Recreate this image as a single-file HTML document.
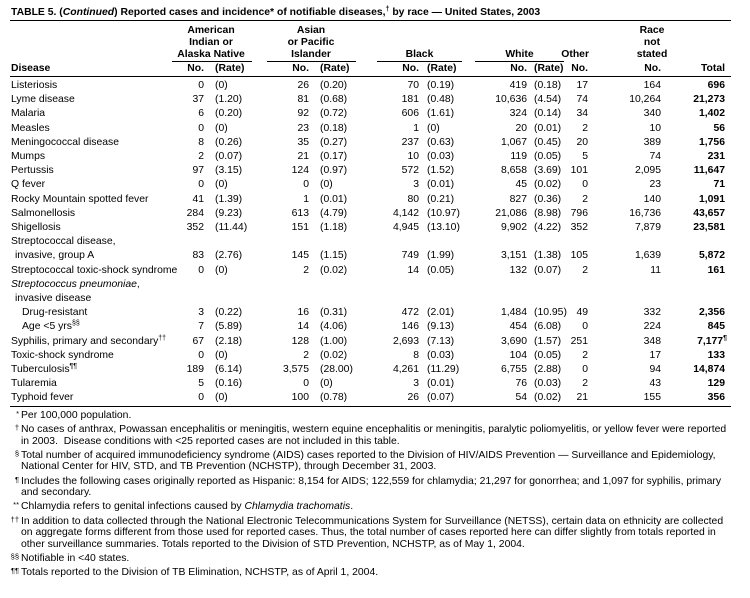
<!DOCTYPE html>
<html><head><meta charset="utf-8">
<style>
html,body{margin:0;padding:0;background:#fff;}
body{width:750px;height:598px;position:relative;overflow:hidden;font-family:"Liberation Sans",Arial,sans-serif;color:#000;font-size:10.4px;}
.a{position:absolute;white-space:nowrap;line-height:14px;}
.row{position:absolute;left:0;width:750px;height:14px;}
.row>span{position:absolute;top:0;line-height:14px;white-space:nowrap;}
.d{left:11px}
.n1{right:546px}.r1{left:215px}
.n2{right:441px}.r2{left:320px}
.n3{right:331px}.r3{left:427px}
.n4{right:223px}.r4{left:534px}
.n5{right:162px}.n6{right:89px}.t{right:25px;font-weight:bold}
.hl{position:absolute;height:1px;background:#000}
.b{font-weight:bold}
.s{font-size:7px;position:relative;top:-4px}
.c{position:absolute;text-align:center;white-space:nowrap;line-height:14px;font-weight:bold}
.fn{position:absolute;left:21px;white-space:nowrap;line-height:12px;}
.mk{position:absolute;width:19px;left:0;text-align:right;white-space:nowrap;line-height:12px;font-size:7.5px;}
</style></head><body>

<div class="a b" style="left:11px;top:6px;">TABLE 5. (<i>Continued</i>) Reported cases and incidence* of notifiable diseases,<span class="s">†</span> by race — United States, 2003</div>
<div class="hl" style="left:10px;width:721px;top:20px;"></div>

<div class="c" style="left:171px;width:80px;top:24px;">American</div>
<div class="c" style="left:171px;width:80px;top:36px;">Indian or</div>
<div class="c" style="left:171px;width:80px;top:48px;">Alaska Native</div>
<div class="c" style="left:266px;width:90px;top:24px;">Asian</div>
<div class="c" style="left:266px;width:90px;top:36px;">or Pacific</div>
<div class="c" style="left:266px;width:90px;top:48px;">Islander</div>
<div class="c" style="left:377px;width:85px;top:48px;">Black</div>
<div class="c" style="left:475px;width:89px;top:48px;">White</div>
<div class="a b" style="right:161px;top:48px;">Other</div>
<div class="c" style="left:622px;width:60px;top:24px;">Race</div>
<div class="c" style="left:622px;width:60px;top:36px;">not</div>
<div class="c" style="left:622px;width:60px;top:48px;">stated</div>

<div class="hl" style="left:172px;width:80px;top:61px;"></div>
<div class="hl" style="left:267px;width:89px;top:61px;"></div>
<div class="hl" style="left:377px;width:85px;top:61px;"></div>
<div class="hl" style="left:475px;width:89px;top:61px;"></div>

<div class="row b" style="top:62px;">
<span class="d">Disease</span>
<span class="n1">No.</span><span class="r1">(Rate)</span>
<span class="n2">No.</span><span class="r2">(Rate)</span>
<span class="n3">No.</span><span class="r3">(Rate)</span>
<span class="n4">No.</span><span class="r4">(Rate)</span>
<span class="n5">No.</span><span class="n6">No.</span><span class="t">Total</span>
</div>
<div class="hl" style="left:10px;width:721px;top:76px;"></div>

<div class="row" style="top:79px;"><span class="d">Listeriosis</span><span class="n1">0</span><span class="r1">(0)</span><span class="n2">26</span><span class="r2">(0.20)</span><span class="n3">70</span><span class="r3">(0.19)</span><span class="n4">419</span><span class="r4">(0.18)</span><span class="n5">17</span><span class="n6">164</span><span class="t">696</span></div>
<div class="row" style="top:93.2px;"><span class="d">Lyme disease</span><span class="n1">37</span><span class="r1">(1.20)</span><span class="n2">81</span><span class="r2">(0.68)</span><span class="n3">181</span><span class="r3">(0.48)</span><span class="n4">10,636</span><span class="r4">(4.54)</span><span class="n5">74</span><span class="n6">10,264</span><span class="t">21,273</span></div>
<div class="row" style="top:107.4px;"><span class="d">Malaria</span><span class="n1">6</span><span class="r1">(0.20)</span><span class="n2">92</span><span class="r2">(0.72)</span><span class="n3">606</span><span class="r3">(1.61)</span><span class="n4">324</span><span class="r4">(0.14)</span><span class="n5">34</span><span class="n6">340</span><span class="t">1,402</span></div>
<div class="row" style="top:121.6px;"><span class="d">Measles</span><span class="n1">0</span><span class="r1">(0)</span><span class="n2">23</span><span class="r2">(0.18)</span><span class="n3">1</span><span class="r3">(0)</span><span class="n4">20</span><span class="r4">(0.01)</span><span class="n5">2</span><span class="n6">10</span><span class="t">56</span></div>
<div class="row" style="top:135.8px;"><span class="d">Meningococcal disease</span><span class="n1">8</span><span class="r1">(0.26)</span><span class="n2">35</span><span class="r2">(0.27)</span><span class="n3">237</span><span class="r3">(0.63)</span><span class="n4">1,067</span><span class="r4">(0.45)</span><span class="n5">20</span><span class="n6">389</span><span class="t">1,756</span></div>
<div class="row" style="top:150px;"><span class="d">Mumps</span><span class="n1">2</span><span class="r1">(0.07)</span><span class="n2">21</span><span class="r2">(0.17)</span><span class="n3">10</span><span class="r3">(0.03)</span><span class="n4">119</span><span class="r4">(0.05)</span><span class="n5">5</span><span class="n6">74</span><span class="t">231</span></div>
<div class="row" style="top:164.2px;"><span class="d">Pertussis</span><span class="n1">97</span><span class="r1">(3.15)</span><span class="n2">124</span><span class="r2">(0.97)</span><span class="n3">572</span><span class="r3">(1.52)</span><span class="n4">8,658</span><span class="r4">(3.69)</span><span class="n5">101</span><span class="n6">2,095</span><span class="t">11,647</span></div>
<div class="row" style="top:178.4px;"><span class="d">Q fever</span><span class="n1">0</span><span class="r1">(0)</span><span class="n2">0</span><span class="r2">(0)</span><span class="n3">3</span><span class="r3">(0.01)</span><span class="n4">45</span><span class="r4">(0.02)</span><span class="n5">0</span><span class="n6">23</span><span class="t">71</span></div>
<div class="row" style="top:192.6px;"><span class="d">Rocky Mountain spotted fever</span><span class="n1">41</span><span class="r1">(1.39)</span><span class="n2">1</span><span class="r2">(0.01)</span><span class="n3">80</span><span class="r3">(0.21)</span><span class="n4">827</span><span class="r4">(0.36)</span><span class="n5">2</span><span class="n6">140</span><span class="t">1,091</span></div>
<div class="row" style="top:206.8px;"><span class="d">Salmonellosis</span><span class="n1">284</span><span class="r1">(9.23)</span><span class="n2">613</span><span class="r2">(4.79)</span><span class="n3">4,142</span><span class="r3">(10.97)</span><span class="n4">21,086</span><span class="r4">(8.98)</span><span class="n5">796</span><span class="n6">16,736</span><span class="t">43,657</span></div>
<div class="row" style="top:221px;"><span class="d">Shigellosis</span><span class="n1">352</span><span class="r1">(11.44)</span><span class="n2">151</span><span class="r2">(1.18)</span><span class="n3">4,945</span><span class="r3">(13.10)</span><span class="n4">9,902</span><span class="r4">(4.22)</span><span class="n5">352</span><span class="n6">7,879</span><span class="t">23,581</span></div>
<div class="row" style="top:235.2px;"><span class="d">Streptococcal disease,</span></div>
<div class="row" style="top:249.4px;"><span class="d" style="left:15px;">invasive, group A</span><span class="n1">83</span><span class="r1">(2.76)</span><span class="n2">145</span><span class="r2">(1.15)</span><span class="n3">749</span><span class="r3">(1.99)</span><span class="n4">3,151</span><span class="r4">(1.38)</span><span class="n5">105</span><span class="n6">1,639</span><span class="t">5,872</span></div>
<div class="row" style="top:263.6px;"><span class="d">Streptococcal toxic-shock syndrome</span><span class="n1">0</span><span class="r1">(0)</span><span class="n2">2</span><span class="r2">(0.02)</span><span class="n3">14</span><span class="r3">(0.05)</span><span class="n4">132</span><span class="r4">(0.07)</span><span class="n5">2</span><span class="n6">11</span><span class="t">161</span></div>
<div class="row" style="top:277.8px;"><span class="d"><i>Streptococcus pneumoniae</i>,</span></div>
<div class="row" style="top:292px;"><span class="d" style="left:15px;">invasive disease</span></div>
<div class="row" style="top:306.2px;"><span class="d" style="left:22px;">Drug-resistant</span><span class="n1">3</span><span class="r1">(0.22)</span><span class="n2">16</span><span class="r2">(0.31)</span><span class="n3">472</span><span class="r3">(2.01)</span><span class="n4">1,484</span><span class="r4">(10.95)</span><span class="n5">49</span><span class="n6">332</span><span class="t">2,356</span></div>
<div class="row" style="top:320.4px;"><span class="d" style="left:22px;">Age &lt;5 yrs<span class="s">§§</span></span><span class="n1">7</span><span class="r1">(5.89)</span><span class="n2">14</span><span class="r2">(4.06)</span><span class="n3">146</span><span class="r3">(9.13)</span><span class="n4">454</span><span class="r4">(6.08)</span><span class="n5">0</span><span class="n6">224</span><span class="t">845</span></div>
<div class="row" style="top:334.6px;"><span class="d">Syphilis, primary and secondary<span class="s">††</span></span><span class="n1">67</span><span class="r1">(2.18)</span><span class="n2">128</span><span class="r2">(1.00)</span><span class="n3">2,693</span><span class="r3">(7.13)</span><span class="n4">3,690</span><span class="r4">(1.57)</span><span class="n5">251</span><span class="n6">348</span><span class="t" style="right:23px;">7,177<span class="s">¶</span></span></div>
<div class="row" style="top:348.8px;"><span class="d">Toxic-shock syndrome</span><span class="n1">0</span><span class="r1">(0)</span><span class="n2">2</span><span class="r2">(0.02)</span><span class="n3">8</span><span class="r3">(0.03)</span><span class="n4">104</span><span class="r4">(0.05)</span><span class="n5">2</span><span class="n6">17</span><span class="t">133</span></div>
<div class="row" style="top:363px;"><span class="d">Tuberculosis<span class="s">¶¶</span></span><span class="n1">189</span><span class="r1">(6.14)</span><span class="n2">3,575</span><span class="r2">(28.00)</span><span class="n3">4,261</span><span class="r3">(11.29)</span><span class="n4">6,755</span><span class="r4">(2.88)</span><span class="n5">0</span><span class="n6">94</span><span class="t">14,874</span></div>
<div class="row" style="top:377.2px;"><span class="d">Tularemia</span><span class="n1">5</span><span class="r1">(0.16)</span><span class="n2">0</span><span class="r2">(0)</span><span class="n3">3</span><span class="r3">(0.01)</span><span class="n4">76</span><span class="r4">(0.03)</span><span class="n5">2</span><span class="n6">43</span><span class="t">129</span></div>
<div class="row" style="top:391.4px;"><span class="d">Typhoid fever</span><span class="n1">0</span><span class="r1">(0)</span><span class="n2">100</span><span class="r2">(0.78)</span><span class="n3">26</span><span class="r3">(0.07)</span><span class="n4">54</span><span class="r4">(0.02)</span><span class="n5">21</span><span class="n6">155</span><span class="t">356</span></div>
<div class="hl" style="left:10px;width:721px;top:406px;"></div>

<div class="mk" style="top:407.5px;">*</div>
<div class="fn" style="top:409.5px;">Per 100,000 population.</div>

<div class="mk" style="top:422px;">†</div>
<div class="fn" style="top:424px;">No cases of anthrax, Powassan encephalitis or meningitis, western equine encephalitis or meningitis, paralytic poliomyelitis, or yellow fever were reported</div>
<div class="fn" style="top:435.5px;">in 2003.&nbsp; Disease conditions with &lt;25 reported cases are not included in this table.</div>

<div class="mk" style="top:447.5px;">§</div>
<div class="fn" style="top:449.5px;">Total number of acquired immunodeficiency syndrome (AIDS) cases reported to the Division of HIV/AIDS Prevention — Surveillance and Epidemiology,</div>
<div class="fn" style="top:461px;">National Center for HIV, STD, and TB Prevention (NCHSTP), through December 31, 2003.</div>

<div class="mk" style="top:473.5px;">¶</div>
<div class="fn" style="top:475.5px;">Includes the following cases originally reported as Hispanic: 8,154 for AIDS; 122,559 for chlamydia; 21,297 for gonorrhea; and 1,097 for syphilis, primary</div>
<div class="fn" style="top:487px;">and secondary.</div>

<div class="mk" style="top:499px;">**</div>
<div class="fn" style="top:501px;">Chlamydia refers to genital infections caused by <i>Chlamydia trachomatis</i>.</div>

<div class="mk" style="top:513.5px;">††</div>
<div class="fn" style="top:515.5px;">In addition to data collected through the National Electronic Telecommunications System for Surveillance (NETSS), certain data on ethnicity are collected</div>
<div class="fn" style="top:527px;">on aggregate forms different from those used for reported cases. Thus, the total number of cases reported here can differ slightly from totals reported in</div>
<div class="fn" style="top:538.5px;">other surveillance summaries. Totals reported to the Division of STD Prevention, NCHSTP, as of May 1, 2004.</div>

<div class="mk" style="top:551px;">§§</div>
<div class="fn" style="top:553px;">Notifiable in &lt;40 states.</div>

<div class="mk" style="top:565px;">¶¶</div>
<div class="fn" style="top:567px;">Totals reported to the Division of TB Elimination, NCHSTP, as of April 1, 2004.</div>

</body></html>
